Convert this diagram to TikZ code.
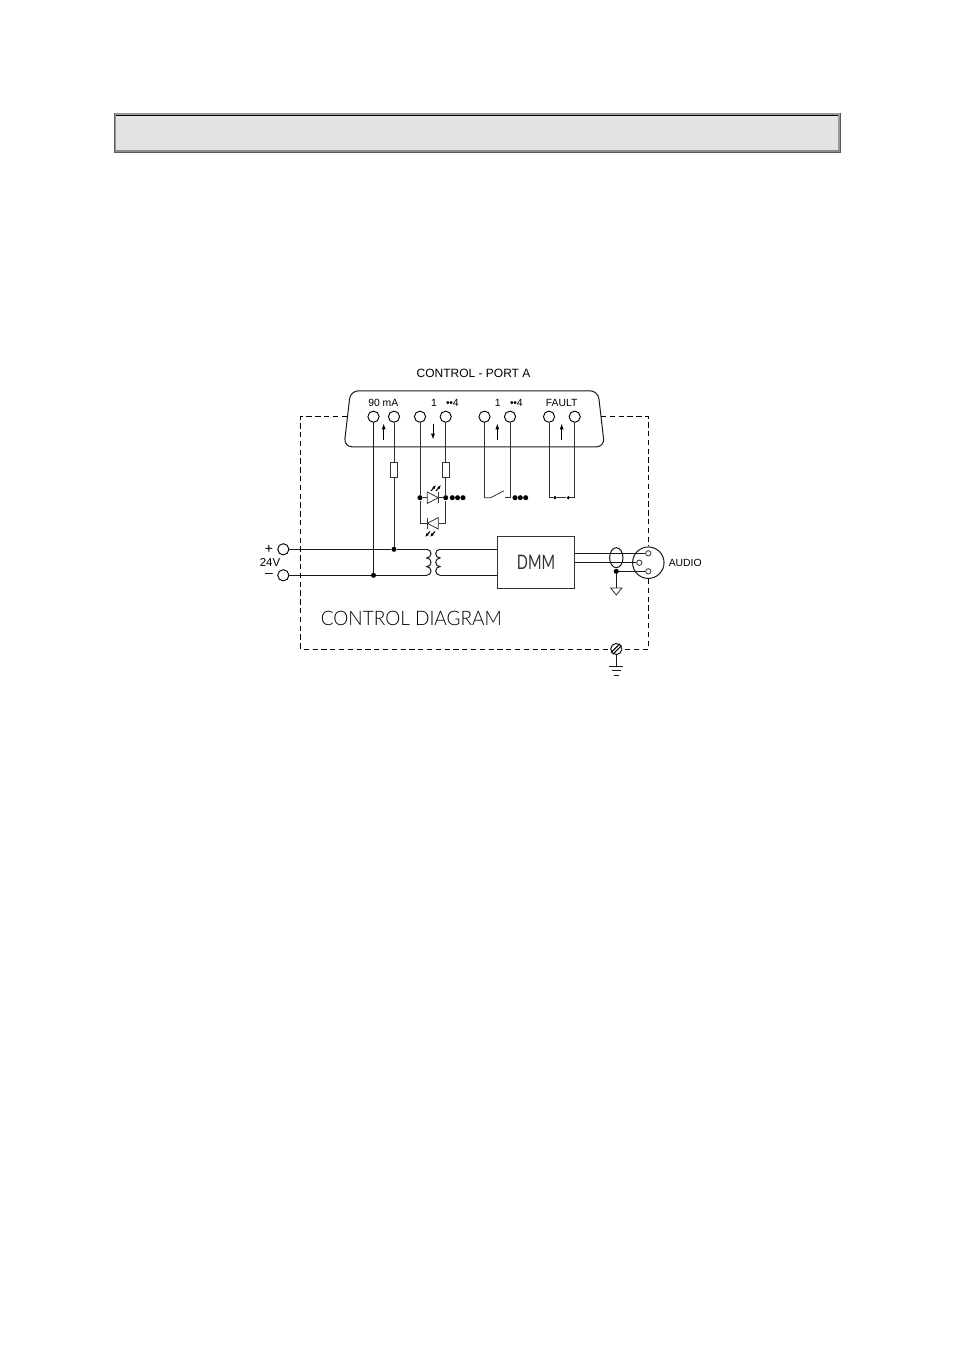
\documentclass[tikz,border=0pt]{standalone}
\usepackage{fontspec}
\setmainfont{Lato}[UprightFont=* Light]
\newfontfamily\labelfont{Liberation Sans}
\newfontfamily\dmmfont{Lato}[FakeStretch=0.73]
\newfontfamily\titlefont{Lato}[UprightFont=* Light,FakeStretch=0.95]
\usetikzlibrary{arrows.meta,calc}
\tikzset{
  wire/.style={line width=0.75pt,black!90},
  thin wire/.style={line width=0.6pt,black!80},
  pin/.style={circle,draw,line width=0.7pt,fill=white,inner sep=0pt,minimum size=8.4pt},
  jdot/.style={circle,fill=black,inner sep=0pt,minimum size=3.8pt},
  smalldot/.style={circle,fill=black,inner sep=0pt,minimum size=2.6pt},
  lbl/.style={inner sep=0pt,font=\labelfont\fontsize{7.8}{9}\selectfont},
  flow/.style={-{Latex[length=4.4pt,width=3pt]},line width=0.6pt},
  glow/.style={-{Latex[length=3pt,width=2.4pt]},line width=0.8pt},
  fuse/.style={draw,thin wire,fill=white,inner sep=0pt,minimum width=5.4pt,minimum height=11.4pt},
  frame/.style={line width=0.7pt,dash pattern=on 4pt off 2.6pt}
}
\begin{document}
\begin{tikzpicture}[x=0.75pt,y=-0.75pt]
\useasboundingbox (0,0) rectangle (954,1351);

% header bar
\fill[black!40] (113.5,113.5) rectangle (840.5,153.5);
\fill[black!65] (113.5,113.5) rectangle (115,153.5);
\fill[black!65] (113.5,152.5) rectangle (840.5,153.5);
\fill[black!65] (839.5,113.5) rectangle (840.5,153.5);
\fill[black!45] (115,150.5) rectangle (839.5,152.5);
\fill[black!11] (116,116) rectangle (838,150.5);
\draw[line width=0.7pt] (115.5,115.3) -- (838,115.3);

% sub-d connector
\draw[wire,rounded corners=6pt] (350.5,390.8) -- (344,446.8) -- (604.5,446.8) -- (598,390.8) -- cycle;
\node[lbl,font=\labelfont\fontsize{9}{10}\selectfont] (porttitle) at (473.5,373.2) {CONTROL - PORT A};

\foreach \name/\xx in {pa/373.5,pb/394,pc/420,pd/445.7,pe/484.5,pf/510,pg/549,ph/574.7}
  \node[pin] (\name) at (\xx,416.7) {};

\node[lbl] (lbla) at (383.3,402.7) {90 mA};
\node[lbl] (lblb) at (434,402.7) {1};
\node[lbl] (lblc) at (452.5,402.7) {\textbullet\hspace{-0.4pt}\textbullet 4};
\node[lbl] (lbld) at (497.7,402.7) {1};
\node[lbl] (lble) at (516.5,402.7) {\textbullet\hspace{-0.4pt}\textbullet 4};
\node[lbl] (lblf) at (561.7,402.7) {FAULT};

\draw[flow] (383.7,439.5) -- (383.7,423.5);
\draw[flow] (433,423.5) -- (433,439.5);
\draw[flow] (497.3,439.5) -- (497.3,423.5);
\draw[flow] (561.7,439.5) -- (561.7,423.5);

% supply and transformer
\node[pin] (plus) at (283.3,549.3) {};
\node[pin] (minus) at (283.3,575.3) {};
\node[lbl,font=\labelfont\fontsize{10.5}{11}\selectfont] (plussign) at (269,549) {+};
\node[lbl,font=\labelfont\fontsize{8.6}{9}\selectfont] (volts) at (270,562.3) {24V};
\node[lbl,font=\labelfont\fontsize{10.5}{11}\selectfont] (minussign) at (269,575.3) {–};

\coordinate (tl1) at (426.7,549.3);
\coordinate (tl2) at (426.7,575.3);
\coordinate (tr1) at (440,549.3);
\coordinate (tr2) at (440,575.3);
\node[jdot] (ja) at (pa |- minus) {};
\node[jdot] (jb) at (pb |- plus) {};
\draw[wire] (plus) -- (jb) -- (tl1);
\draw[wire] (tl1) arc[start angle=-90,end angle=90,radius=4.33]
  arc[start angle=-90,end angle=90,radius=4.33] arc[start angle=-90,end angle=90,radius=4.33];
\draw[wire] (minus) -- (ja) -- (tl2);
\draw[wire] (tr1) arc[start angle=270,end angle=90,radius=4.33]
  arc[start angle=270,end angle=90,radius=4.33] arc[start angle=270,end angle=90,radius=4.33];

\node[draw,thin wire,minimum width=57.8pt,minimum height=39pt,inner sep=0pt,font=\dmmfont\fontsize{15}{16}\selectfont] (dmm) at (536,562) {DMM};
\draw[wire] (tr1) -- (dmm.west |- tr1);
\draw[wire] (tr2) -- (dmm.west |- tr2);

% pins down
\draw[wire] (pa) -- (ja);
\node[fuse] (fusea) at (394,469.7) {};
\draw[thin wire] (pb) -- (fusea) -- (jb);

% led pair
\node[fuse] (fuseb) at (445.7,469.7) {};
\node[jdot] (jc) at (420,497.7) {};
\node[jdot] (jd) at (445.7,497.7) {};
\coordinate (ce) at (420,523.3);
\coordinate (cf) at (445.7,523.3);
\draw[thin wire] (pc) -- (jc) -- (ce) -- (cf) -- (jd);
\draw[thin wire] (pd) -- (fuseb) -- (jd);
\draw[thin wire] (jc) -- (jd);
\draw[thin wire,fill=white] (427.3,492) -- (438.3,497.7) -- (427.3,503.4) -- cycle;
\draw[thin wire] (438.3,492) -- (438.3,503.4);
\draw[thin wire,fill=white] (438.3,517.6) -- (427.3,523.3) -- (438.3,529) -- cycle;
\draw[thin wire] (427.3,517.6) -- (427.3,529);
\draw[glow] (431,491) -- (436,485);
\draw[glow] (436,491) -- (441,485);
\draw[glow] (430,531.5) -- (425,537);
\draw[glow] (435,531.5) -- (430,537);
\foreach \name/\xx in {da/452.3,db/457.6,dc/463}
  \node[jdot] (\name) at (\xx,497.7) {};

% relay contact
\coordinate (sa) at (490.7,497.7);
\coordinate (sb) at (504,490.7);
\coordinate (sc) at (505,497.7);
\draw[thin wire] (pe) -- (pe |- sa) -- (sa) -- (sb);
\draw[thin wire] (pf) -- (pf |- sc) -- (sc);
\foreach \name/\xx in {dd/515,de/520.3,df/525.7}
  \node[jdot] (\name) at (\xx,497.7) {};

% fault loop
\node[smalldot] (jg) at (555,497.7) {};
\node[smalldot] (jh) at (568.3,497.7) {};
\draw[thin wire] (pg) -- (pg |- jg) -- (jg) -- (jh) -- (ph |- jh) -- (ph);

% audio
\node[circle,draw,wire,inner sep=0pt,minimum size=23.6pt] (xlr) at (648.3,562.7) {};
\node[circle,draw,thin wire,inner sep=0pt,minimum size=4pt] (xa) at (648.3,553.3) {};
\node[circle,draw,thin wire,inner sep=0pt,minimum size=4pt] (xb) at (639.3,562.7) {};
\node[circle,draw,thin wire,inner sep=0pt,minimum size=4pt] (xc) at (648.3,571.3) {};
\node[lbl,anchor=west] (audio) at (668.5,562.7) {AUDIO};
\node[jdot] (je) at (616.3,571.3) {};
\draw[wire] (dmm.east |- xa) -- (xa);
\draw[wire] (dmm.east |- xb) -- (xb);
\draw[wire] (je) -- (xc);
\draw[wire] (616.3,557.7) ellipse (6.7 and 10);
\coordinate (gnd) at (616.3,588);
\draw[wire] (je) -- (gnd);
\draw[thin wire] (610.7,588) -- (622,588) -- (616.3,595) -- cycle;

% dashed frame
\node[circle,draw,wire,inner sep=0pt,minimum size=8.4pt] (earth) at (616.3,649) {};
\draw[frame] (347,416.7) -- (300.7,416.7) -- (300.7,649) -- (earth);
\draw[frame] (601,416.7) -- (648.3,416.7) -- (xlr);
\draw[frame] (xlr) -- (648.3,649) -- (earth);
\draw[line width=0.8pt] ($(earth.south west)+(-0.9,-0.9)$) -- ($(earth.north east)+(-0.9,-0.9)$);
\draw[line width=0.8pt] ($(earth.south west)+(0.9,0.9)$) -- ($(earth.north east)+(0.9,0.9)$);
\coordinate (ea) at (616.3,666.7);
\draw[wire] (earth) -- (ea);
\draw[wire] (609.3,666.7) -- (623.3,666.7);
\draw[wire] (611.7,670.7) -- (621,670.7);
\draw[wire] (614,675) -- (618.7,675);

\node[inner sep=0pt,anchor=west,font=\titlefont\fontsize{15}{16}\selectfont] (ctitle) at (320.5,618.5) {CONTROL DIAGRAM};
\end{tikzpicture}
\end{document}
